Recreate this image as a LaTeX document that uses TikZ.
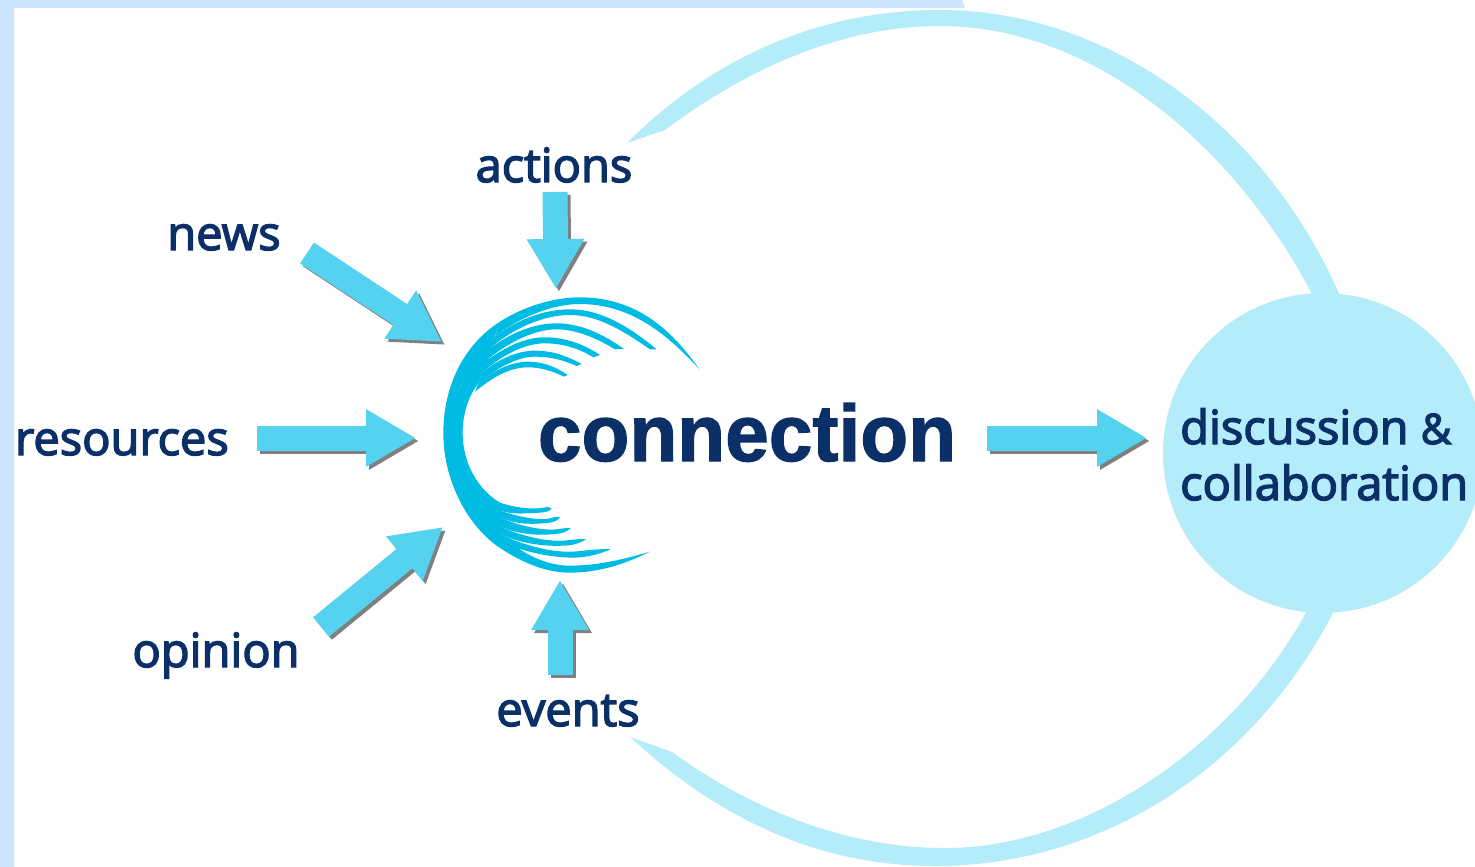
\documentclass[tikz,border=0pt]{standalone}
\usepackage{fontspec}
\setmainfont[FakeBold=3]{Open Sans}
\newfontfamily\logofont[BoldFeatures={FakeBold=1.5}]{Liberation Sans}
\usetikzlibrary{arrows.meta}
\definecolor{band}{HTML}{CCE5FF}
\definecolor{ring}{HTML}{B5ECF9}
\definecolor{talk}{HTML}{55D2EF}
\definecolor{logoblue}{HTML}{00BBE4}
\definecolor{ink}{HTML}{0B3068}
\definecolor{shadow}{HTML}{808080}
\tikzset{
    %Define style for labels
    label text/.style={
           text=ink,
           inner sep=0pt,
           anchor=base,
           font=\fontsize{47}{50}\selectfont},
    % Define arrow styles
    pil/.style={
           line width=25pt,
           -{Triangle[length=50pt,width=54pt]},
           draw=talk},
    pil shadow/.style={
           pil,
           draw=shadow,
           transform canvas={shift={(3pt,-3pt)}}}
}
\newcommand{\pilarrow}[2]{
    \draw[pil shadow] (#1) -- (#2);
    \draw[pil] (#1) -- (#2);
}
\newcommand{\swoosh}[1]{
    \fill[logoblue] #1 -- cycle;
}
\begin{document}
\begin{tikzpicture}[x=1pt,y=-1pt]
\useasboundingbox (0,0) rectangle (1475,867);
\clip (0,0) rectangle (1475,867);
\fill[white] (0,0) rectangle (1475,867);
\fill[band] (0,0) -- (962,0) -- (965,8) -- (14,8) -- (14,867) -- (0,867) -- cycle;
% loop round the discussion
\fill[ring] (627,143) .. controls (720,50) and (830,10) .. (940,10) .. controls (1100,10) and (1262,115) .. (1342,300)
	-- (1315,300) .. controls (1250,170) and (1110,26) .. (940,26) .. controls (840,26) and (745,70) .. (665,130) -- cycle;
\fill[ring] (630,737) .. controls (720,820) and (820,866) .. (935,866) .. controls (1100,866) and (1255,770) .. (1337,605)
	-- (1310,605) .. controls (1240,740) and (1090,848) .. (945,848) .. controls (840,848) and (745,805) .. (672,752) -- cycle;
\node[circle,fill=ring,minimum size=320pt,inner sep=0pt](Disc) at (1323,453){};
% logo, read off in its own grid
\begin{scope}[shift={(420,280)},x=.3333pt,y=-.3333pt]
\swoosh{(240,125) .. controls (130,195) and (70,320) .. (70,460) .. controls (70,610) and (150,745) .. (240,804) -- (240,668) .. controls (175,630) and (128,550) .. (128,460) .. controls (128,400) and (145,350) .. (175,310)}
\swoosh{(240,125) .. controls (310,80) and (400,52) .. (480,52) .. controls (640,52) and (750,140) .. (838,268) .. controls (740,160) and (630,72) .. (480,72) .. controls (400,72) and (300,110) .. (225,170)}
\swoosh{(225,170) .. controls (290,120) and (370,88) .. (450,88) .. controls (550,88) and (640,150) .. (710,208) -- (690,208) .. controls (620,160) and (540,105) .. (450,105) .. controls (370,105) and (280,145) .. (210,205)}
\swoosh{(210,205) .. controls (270,160) and (340,130) .. (410,130) .. controls (490,130) and (560,170) .. (612,207) -- (585,208) .. controls (530,175) and (470,148) .. (410,148) .. controls (340,148) and (260,190) .. (195,245)}
\swoosh{(195,245) .. controls (250,205) and (310,172) .. (375,172) .. controls (440,172) and (495,195) .. (540,225) -- (520,232) .. controls (480,207) and (430,190) .. (375,190) .. controls (310,190) and (240,230) .. (185,280)}
\swoosh{(185,280) .. controls (230,240) and (290,212) .. (345,212) .. controls (400,212) and (445,230) .. (485,252) -- (470,258) .. controls (430,240) and (390,230) .. (345,230) .. controls (290,230) and (225,268) .. (175,310)}
\swoosh{(175,310) .. controls (215,275) and (270,245) .. (325,245) .. controls (370,245) and (410,262) .. (443,285) -- (433,290) .. controls (400,275) and (365,262) .. (325,262) .. controls (270,262) and (220,290) .. (165,335)}
\swoosh{(240,804) .. controls (310,850) and (380,878) .. (450,878) .. controls (540,878) and (620,850) .. (690,815) .. controls (620,835) and (540,857) .. (450,857) .. controls (380,857) and (310,825) .. (240,762)}
\swoosh{(240,762) .. controls (320,800) and (400,818) .. (460,815) .. controls (500,812) and (540,805) .. (572,808) .. controls (540,822) and (500,833) .. (460,833) .. controls (390,833) and (310,815) .. (240,785)}
\swoosh{(240,740) .. controls (310,770) and (380,785) .. (430,782) .. controls (460,780) and (480,775) .. (498,778) .. controls (480,790) and (455,797) .. (430,797) .. controls (370,800) and (300,790) .. (240,762)}
\swoosh{(240,712) .. controls (300,740) and (370,752) .. (410,748) .. controls (430,746) and (440,742) .. (452,745) .. controls (440,755) and (425,762) .. (405,762) .. controls (360,767) and (300,765) .. (240,740)}
\swoosh{(240,692) .. controls (300,712) and (360,722) .. (385,716) .. controls (400,713) and (410,708) .. (420,712) .. controls (412,722) and (400,728) .. (380,729) .. controls (340,733) and (290,735) .. (240,712)}
\swoosh{(240,668) .. controls (290,685) and (340,688) .. (365,684) .. controls (380,682) and (388,678) .. (395,685) .. controls (390,695) and (375,697) .. (360,698) .. controls (320,700) and (280,705) .. (240,692)}
\end{scope}
% labels
\node[label text](News) at (224,250){news};
\node[label text](Resources) at (122,455){resources};
\node[label text](Opinion) at (216,667){opinion};
\node[label text](Actions) at (554,182){actions};
\node[label text](Events) at (568,726){events};
\node[label text,font=\logofont\fontsize{80}{90}\selectfont\bfseries,xscale=.98](Connection) at (747,461){connection};
\node[label text,anchor=base west,font=\fontsize{47}{50}\selectfont](Discussion) at (1180,444){discussion {\fontsize{42}{50}\selectfont\&}};
\node[label text,anchor=base west,font=\fontsize{47}{50}\selectfont](Collaboration) at (1180,500){collaboration};
% arrow ends
\coordinate (NewsTail) at (307,253);
\coordinate (NewsTip) at (442,342);
\coordinate (ResourcesTail) at (257,438);
\coordinate (ResourcesTip) at (416,438);
\coordinate (OpinionTail) at (321,627);
\coordinate (OpinionTip) at (443,527);
\coordinate (ActionsTail) at (555,192);
\coordinate (ActionsTip) at (556,289);
\coordinate (EventsTail) at (560,675);
\coordinate (EventsTip) at (560,580);
\coordinate (ConnectionTail) at (987,438);
\coordinate (ConnectionTip) at (1147,438);
\pilarrow{NewsTail}{NewsTip}
\pilarrow{ResourcesTail}{ResourcesTip}
\pilarrow{OpinionTail}{OpinionTip}
\pilarrow{ActionsTail}{ActionsTip}
\pilarrow{EventsTail}{EventsTip}
\pilarrow{ConnectionTail}{ConnectionTip}
\end{tikzpicture}
\end{document}
